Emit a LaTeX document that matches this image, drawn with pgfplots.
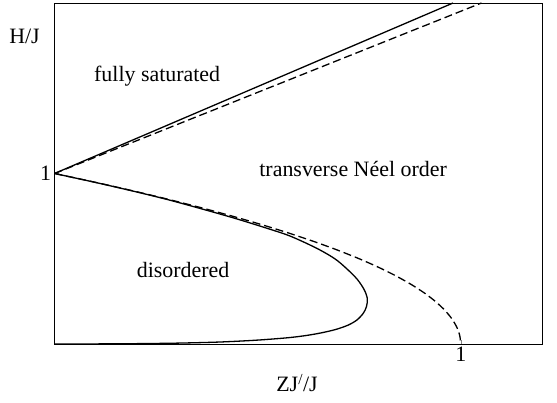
\documentclass[border=0pt]{standalone}
\usepackage{fontspec}
\setmainfont{Liberation Serif}
\usepackage{pgfplots}
\pgfplotsset{compat=1.18}

\begin{document}
\begin{tikzpicture}[font=\fontsize{22}{26}\selectfont]
\begin{axis}[
  at={(0,0)}, anchor=south west,
  scale only axis, width=487.5bp, height=341bp,
  xmin=0, xmax=1.2, ymin=0, ymax=2,
  xtick={1}, ytick={1},
  tick pos=left, tick align=inside, major tick length=4bp,
  axis line style={line width=0.8bp},
  /pgf/number format/assume math mode=true,
  ticklabel style={font=\fontsize{22}{26}\selectfont},
]
% upper boundary (saturation)
\addplot[black, line width=1.3bp] coordinates {(0,1) (0.981,2)};
\addplot[black, line width=1.3bp, dash pattern=on 8bp off 4bp] coordinates {(0,1) (1.051,2)};
% lower boundary, solid
\addplot[black, line width=1.3bp, smooth] coordinates {
(0,1) (0.1,0.948) (0.2,0.893) (0.28,0.846) (0.36,0.794) (0.44,0.740)
(0.52,0.681) (0.58,0.633) (0.645,0.562) (0.69,0.5) (0.72,0.44)
(0.745,0.38) (0.762,0.32) (0.77,0.267) (0.768,0.22) (0.76,0.18)
(0.744,0.14) (0.722,0.11) (0.692,0.085) (0.656,0.065) (0.62,0.05)
(0.58,0.038) (0.53,0.028) (0.48,0.02) (0.4,0.011) (0.3,0.005)
(0.2,0.002) (0.1,0.0005) (0,0)};
% lower boundary, dashed
\addplot[black, line width=1.3bp, dash pattern=on 8bp off 4bp, smooth, tension=0.4] coordinates {
(0,1) (0.0975,0.95) (0.19,0.9) (0.2775,0.85) (0.36,0.8) (0.4375,0.75)
(0.51,0.7) (0.5775,0.65) (0.64,0.6) (0.6975,0.55) (0.75,0.5)
(0.7975,0.45) (0.84,0.4) (0.8775,0.35) (0.91,0.3) (0.9375,0.25)
(0.96,0.2) (0.9775,0.15) (0.99,0.1) (0.9975,0.05) (1,0)};

\node[anchor=base west] at (axis cs:0.089,1.5425) {fully saturated};
\node[anchor=base west] at (axis cs:0.4957,0.985) {transverse N\'eel order};
\node[anchor=base west] at (axis cs:0.194,0.389) {disordered};
\end{axis}
\node[anchor=base east] at (-11.2bp,300bp) {H/J};
\node[anchor=base] at (242.5bp,-47.7bp) {ZJ\textsuperscript{/}/J};
\pgfresetboundingbox
\path[use as bounding box] (-54.5bp,-59bp) rectangle (502.5bp,344bp);
\end{tikzpicture}
\end{document}
